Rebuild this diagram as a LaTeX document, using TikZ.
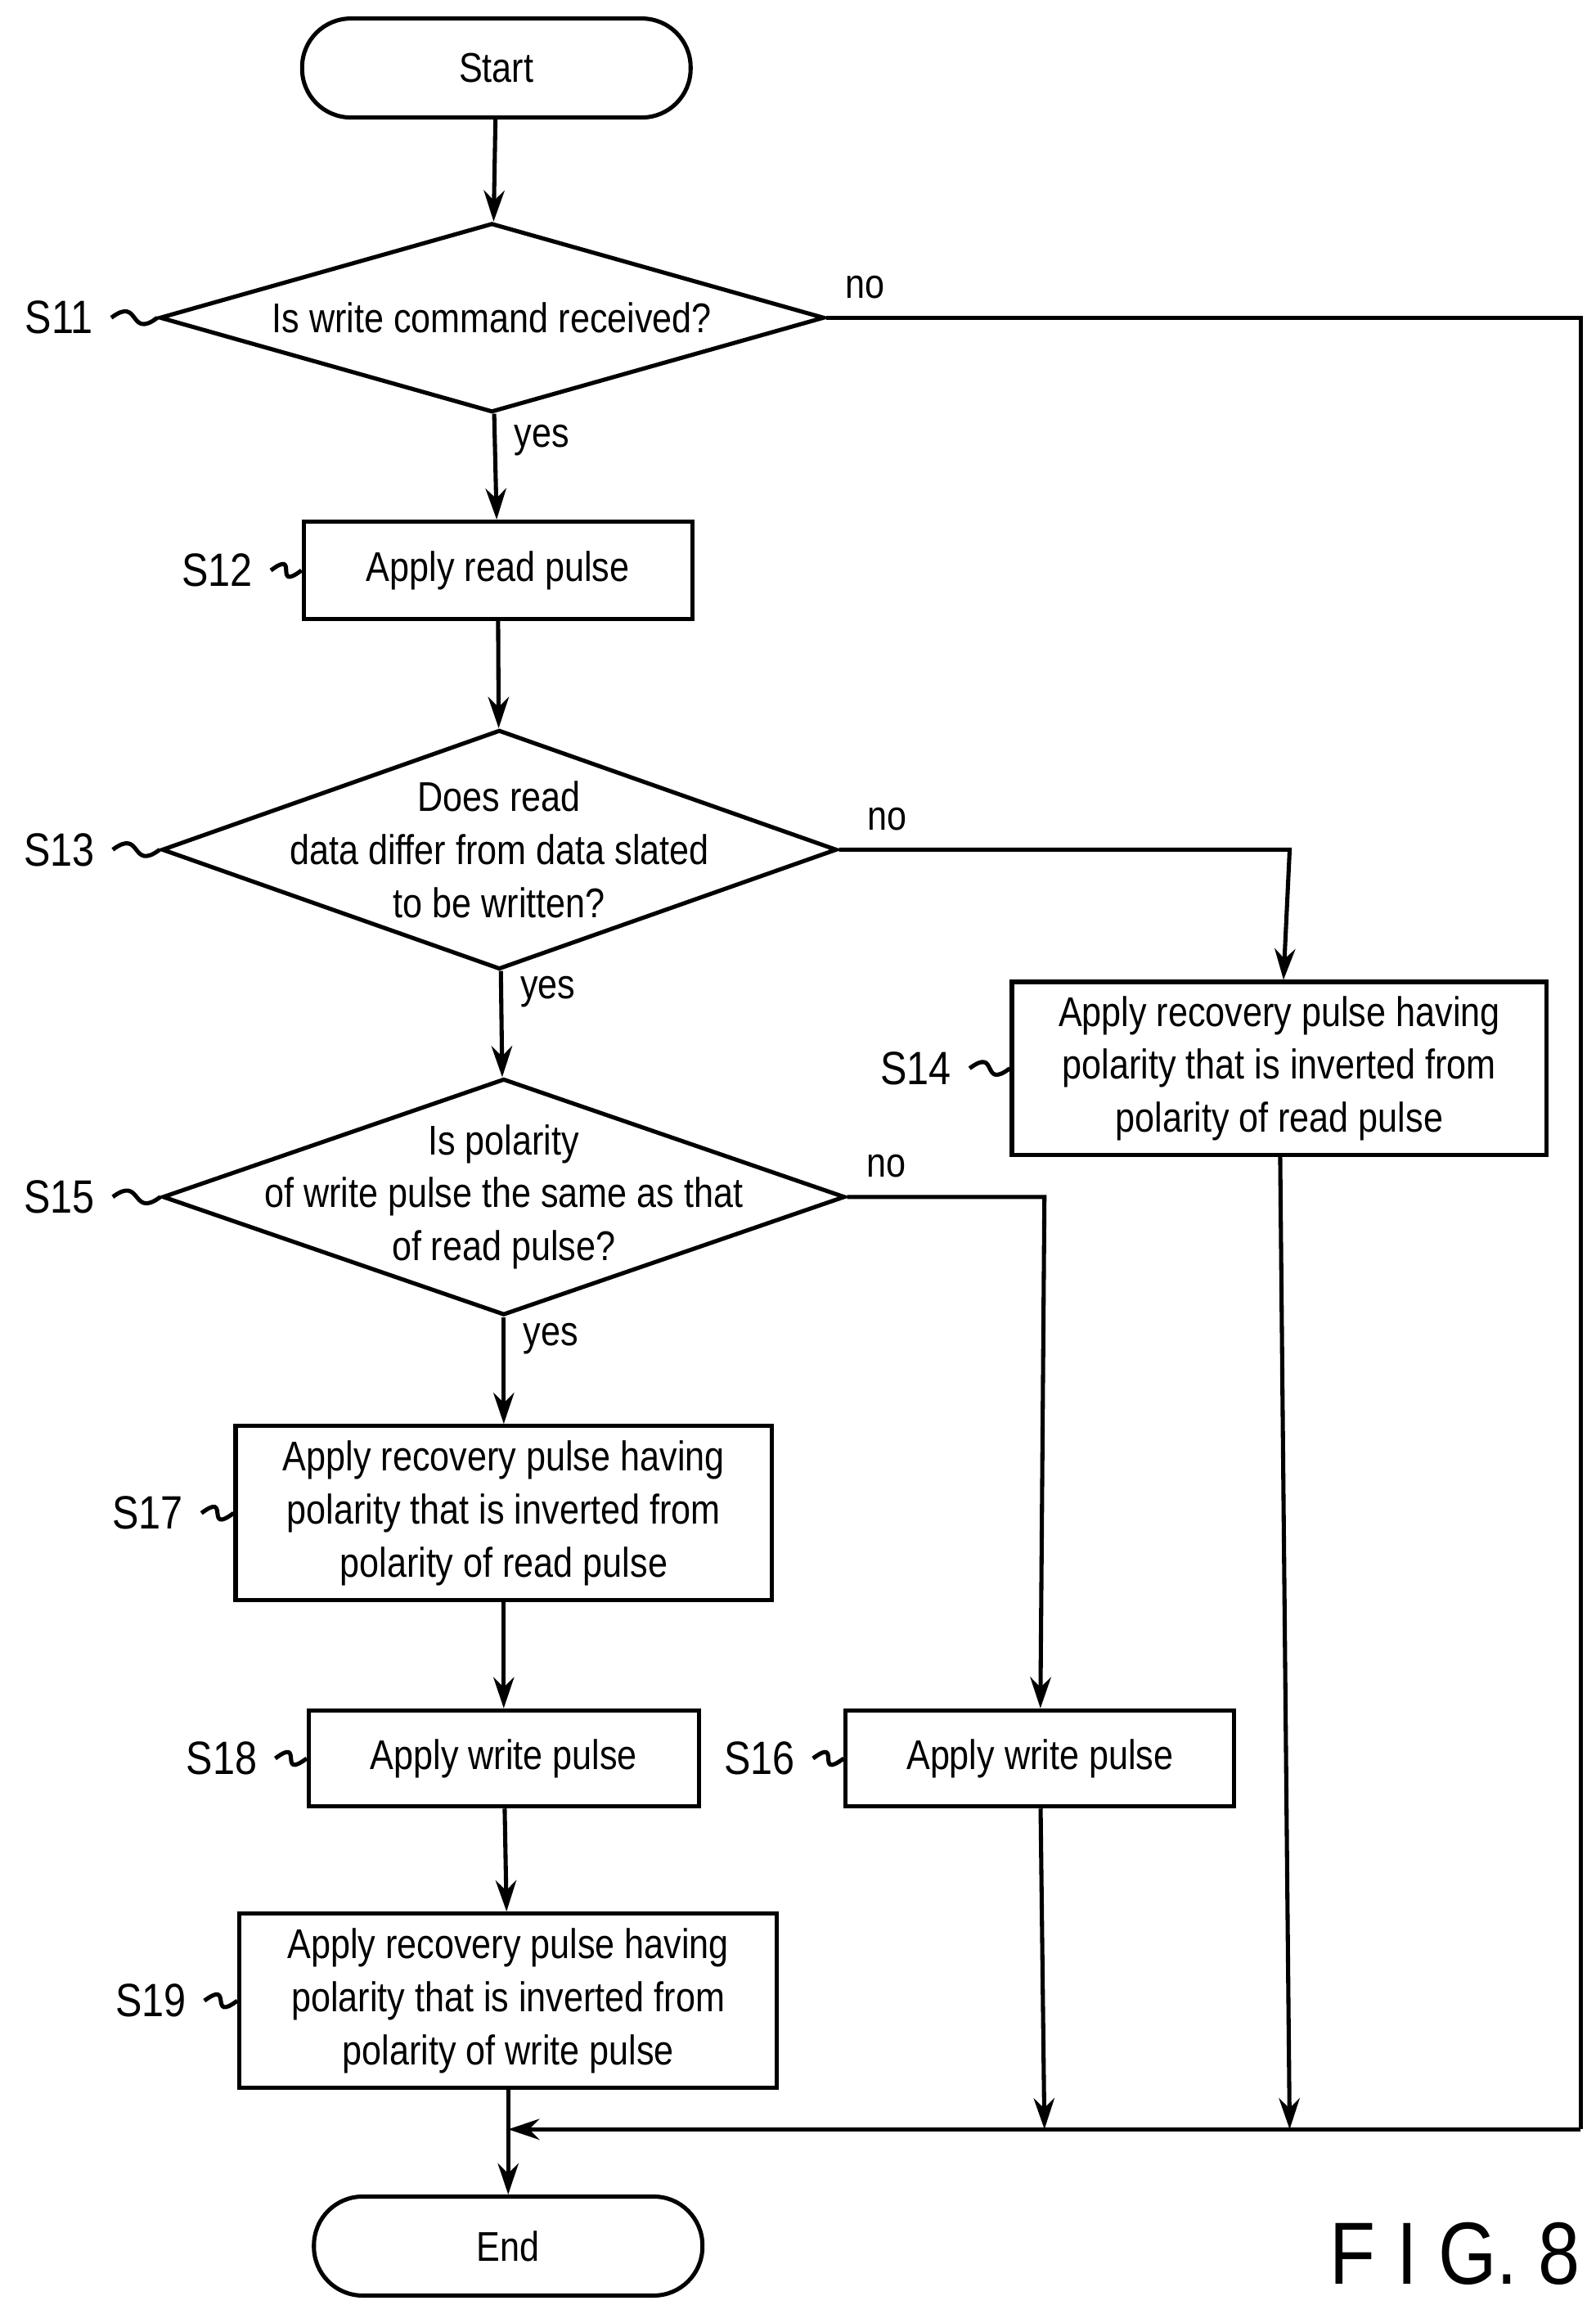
\documentclass[tikz,border=0pt]{standalone}
\usepackage{fontspec}
\setmainfont{Liberation Sans}[FakeStretch=0.85]
\usetikzlibrary{shapes.geometric,arrows.meta}
\tikzset{
  box/.style={rectangle,draw,thick,align=center,inner sep=1pt},
  term/.style={rectangle,rounded corners=0.33cm,draw,thick,minimum width=2.63cm,minimum height=0.67cm},
  dec/.style={diamond,draw,thick,align=center,inner xsep=-1.8cm,inner ysep=-0.7cm,aspect=1},
  flow/.style={thick,-{Stealth[length=6pt,width=4pt]}},
  steplabel/.style={font=\fontsize{9}{10}\selectfont},
  tilde/.style={thick},
}
\begin{document}
\begin{tikzpicture}[font=\fontsize{8}{10.2}\selectfont]
  \useasboundingbox (0,0) rectangle (10.8,-15.66);
  \node (start) at (3.36,-0.46) [term] {Start};
  \node (s11) at (3.33,-2.15) [dec,minimum width=4.5cm,minimum height=1.28cm] {Is write command received?};
  \node (s12) at (3.37,-3.86) [box,minimum width=2.63cm,minimum height=0.66cm] {Apply read pulse};
  \node (s13) at (3.38,-5.75) [dec,minimum width=4.57cm,minimum height=1.62cm] {Does read\\data differ from data slated\\to be written?};
  \node (s14) at (8.66,-7.23) [box,minimum width=3.62cm,minimum height=1.17cm] {Apply recovery pulse having\\polarity that is inverted from\\polarity of read pulse};
  \node (s15) at (3.41,-8.10) [dec,minimum width=4.62cm,minimum height=1.60cm] {Is polarity\\of write pulse the same as that\\of read pulse?};
  \node (s17) at (3.41,-10.24) [box,minimum width=3.63cm,minimum height=1.18cm] {Apply recovery pulse having\\polarity that is inverted from\\polarity of read pulse};
  \node (s18) at (3.41,-11.90) [box,minimum width=2.64cm,minimum height=0.65cm] {Apply write pulse};
  \node (s16) at (7.04,-11.90) [box,minimum width=2.63cm,minimum height=0.65cm] {Apply write pulse};
  \node (s19) at (3.44,-13.54) [box,minimum width=3.64cm,minimum height=1.18cm] {Apply recovery pulse having\\polarity that is inverted from\\polarity of write pulse};
  \node (end) at (3.44,-15.20) [term] {End};
  \coordinate (merge) at (3.44,-14.41);
  \coordinate (n11) at (10.70,-2.15);
  \coordinate (c11) at (10.70,-14.41);
  \coordinate (n13) at (8.73,-5.75);
  \coordinate (c14) at (8.73,-14.41);
  \coordinate (n15) at (7.07,-8.10);
  \coordinate (c16) at (7.07,-14.41);
  % step labels
  \node (l11) at (0.40,-2.15) [steplabel] {S11};
  \node (l12) at (1.47,-3.86) [steplabel] {S12};
  \node (l13) at (0.40,-5.75) [steplabel] {S13};
  \node (l14) at (6.20,-7.23) [steplabel] {S14};
  \node (l15) at (0.40,-8.10) [steplabel] {S15};
  \node (l17) at (1.00,-10.24) [steplabel] {S17};
  \node (l18) at (1.50,-11.90) [steplabel] {S18};
  \node (l16) at (5.14,-11.90) [steplabel] {S16};
  \node (l19) at (1.02,-13.54) [steplabel] {S19};
  \foreach \a/\b in {l11/s11,l12/s12,l13/s13,l14/s14,l15/s15,l17/s17,l18/s18,l16/s16,l19/s19}
    \draw [tilde] (\a.east) .. controls +(0.2,0.15) and +(-0.2,-0.15) .. (\b.west);
  % connectors
  \draw [flow] (start) -- (s11);
  \draw [flow] (s11) -- node [pos=0.25,right] {yes} (s12);
  \draw [flow] (s12) -- (s13);
  \draw [flow] (s13) -- node [pos=0.2,right] {yes} (s15);
  \draw [flow] (s15) -- node [pos=0.2,right] {yes} (s17);
  \draw [flow] (s17) -- (s18);
  \draw [flow] (s18) -- (s19);
  \draw [flow] (s19) -- (end);
  \draw [flow] (s13.east) -- node [above right,pos=0.02] {no} (n13) -- (s14);
  \draw [flow] (s15.east) -- node [above right,pos=0.0] {no} (n15) -- (s16);
  \draw [thick] (s11.east) -- node [above right,pos=0.0] {no} (n11) -- (c11);
  \draw [flow] (s14) -- (c14);
  \draw [flow] (s16) -- (c16);
  \draw [flow] (c11) -- (merge);
  \node (fig) at (9.85,-15.25) [font=\fontsize{17}{20}\selectfont] {F I G. 8};
\end{tikzpicture}
\end{document}
